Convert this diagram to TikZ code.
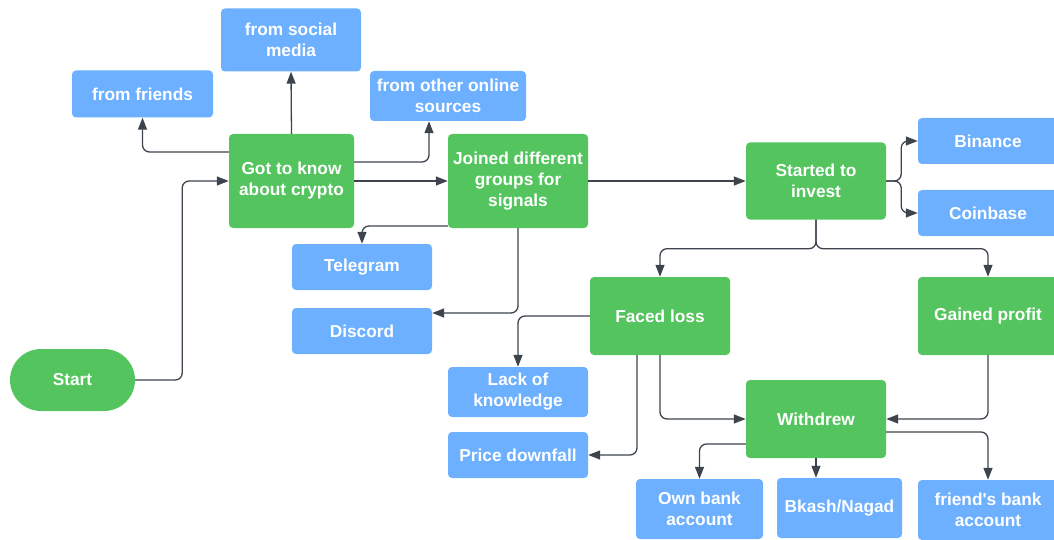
\documentclass[tikz,border=0pt]{standalone}
\usepackage{fontspec}
\setmainfont{Liberation Sans}
\usepackage{xcolor}
\usetikzlibrary{arrows.meta}
\definecolor{stepgreen}{RGB}{84,196,94}
\definecolor{leafblue}{RGB}{108,176,255}
\definecolor{linegray}{RGB}{62,68,78}

\begin{document}
\begin{tikzpicture}[
			     x=1pt, y=-1pt,
			     font=\fontsize{17.3}{21}\selectfont\bfseries,
			     stepbox/.style={fill=stepgreen, text=white, rounded corners=4pt, inner sep=0pt, align=center, minimum width=140pt},
			     leafbox/.style={fill=leafblue, text=white, rounded corners=4pt, inner sep=0pt, align=center, minimum width=140pt},
			     flow line/.style={-{Triangle[length=12pt,width=9pt]}, draw=linegray, line width=1.3pt, rounded corners=7pt}
			     ]
\useasboundingbox (0,0) rectangle (1054,540);
% main steps
\node[stepbox, minimum width=125pt, minimum height=62pt, rounded corners=31pt] (start) at (72.5,380) {Start};
\node[stepbox, minimum width=125pt, minimum height=94pt] (got) at (291.5,181) {Got to know\\about crypto};
\node[stepbox, minimum height=94pt] (joined) at (518,181) {Joined different\\groups for\\signals};
\node[stepbox, minimum height=77pt] (invest) at (816,181) {Started to\\invest};
\node[stepbox, minimum height=78pt] (loss) at (660,316) {Faced loss};
\node[stepbox, minimum height=78pt] (profit) at (988,316) {Gained profit};
\node[stepbox, minimum height=78pt] (withdrew) at (816,419) {Withdrew};
% where from
\node[leafbox, minimum width=141pt, minimum height=47pt] (friends) at (142.5,94) {from friends};
\node[leafbox, minimum height=63pt] (social) at (291,40) {from social\\media};
\node[leafbox, minimum width=156pt, minimum height=50pt] (online) at (448,96) {from other online\\sources};
% groups
\node[leafbox, minimum height=46pt] (telegram) at (362,267) {Telegram};
\node[leafbox, minimum height=46pt] (discord) at (362,331) {Discord};
% exchanges
\node[leafbox, minimum height=46pt] (binance) at (988,141) {Binance};
\node[leafbox, minimum height=46pt] (coinbase) at (988,213) {Coinbase};
% reasons
\node[leafbox, minimum height=50pt] (lack) at (518,392) {Lack of\\knowledge};
\node[leafbox, minimum height=46pt] (downfall) at (518,455) {Price downfall};
% accounts
\node[leafbox, minimum width=127pt, minimum height=60pt] (ownbank) at (699.5,509) {Own bank\\account};
\node[leafbox, minimum width=125pt, minimum height=60pt] (bkash) at (839.5,508) {Bkash/Nagad};
\node[leafbox, minimum height=60pt] (friendbank) at (988,510) {friend\textquotesingle s bank\\account};
%
\draw[flow line] (start.east) -- ++(47,0) |- (got.west);
\draw[flow line] (got.north) -- (social.south);
\draw[flow line] ([yshift=29pt]got.west) -| (friends.south);
\draw[flow line] ([yshift=19pt]got.east) -| ([xshift=-19pt]online.south);
\draw[flow line] (got.east) -- (joined.west);
%
\draw[flow line] ([yshift=-45pt]joined.west) -| (telegram.north);
\draw[flow line] (joined.south) |- ([yshift=18pt]discord.east);
\draw[flow line] (joined.east) -- (invest.west);
%
\draw[flow line] (invest.east) -- ++(15,0) |- (binance.west);
\draw[flow line] (invest.east) -- ++(15,0) |- (coinbase.west);
\draw[flow line] (invest.south) -- ++(0,29) -| (loss.north);
\draw[flow line] (invest.south) -- ++(0,29) -| (profit.north);
%
\draw[flow line] (loss.west) -| (lack.north);
\draw[flow line] ([xshift=-23pt]loss.south) |- (downfall.east);
\draw[flow line] (loss.south) |- (withdrew.west);
\draw[flow line] (profit.south) |- (withdrew.east);
%
\draw[flow line] ([yshift=-25pt]withdrew.west) -| (ownbank.north);
\draw[flow line] (withdrew.south) -- (withdrew.south |- bkash.north);
\draw[flow line] ([yshift=-13pt]withdrew.east) -| (friendbank.north);
\end{tikzpicture}
\end{document}
